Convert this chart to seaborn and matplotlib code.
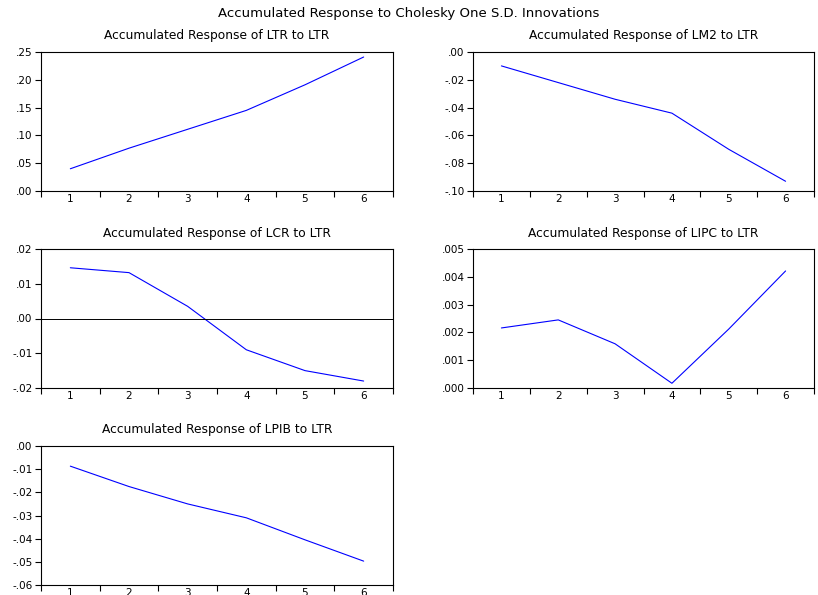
import numpy as np
import pandas as pd
import matplotlib
matplotlib.use('Agg')
import matplotlib.pyplot as plt
from matplotlib.ticker import FuncFormatter, FixedLocator
import seaborn as sns

sns.set_style('white')
plt.rcParams['font.family'] = ['DejaVu Sans']
plt.rcParams['text.color'] = 'black'
plt.rcParams['xtick.color'] = 'black'
plt.rcParams['ytick.color'] = 'black'

periods = [1, 2, 3, 4, 5, 6]

# accumulated responses to a LTR shock
ltr = [0.040, 0.077, 0.111, 0.145, 0.191, 0.241]
lm2 = [-0.010, -0.022, -0.034, -0.044, -0.070, -0.093]
lcr = [0.0146, 0.0132, 0.0035, -0.0090, -0.0150, -0.0180]
lipc = [0.00216, 0.00245, 0.00159, 0.00017, 0.00212, 0.00421]
lpib = [-0.0087, -0.0175, -0.0250, -0.0310, -0.0405, -0.0497]

titles = ['Accumulated Response of LTR to LTR',
          'Accumulated Response of LM2 to LTR',
          'Accumulated Response of LCR to LTR',
          'Accumulated Response of LIPC to LTR',
          'Accumulated Response of LPIB to LTR']
series = [ltr, lm2, lcr, lipc, lpib]
ylims = [(0, 0.25), (-0.10, 0.0), (-0.02, 0.02), (0, 0.005), (-0.06, 0.0)]
ysteps = [0.05, 0.02, 0.01, 0.001, 0.01]
ydec = [2, 2, 2, 3, 2]

W, H = 818, 595
# left, top, right, bottom in pixels
boxes = [(41, 52, 393, 191), (473, 52, 814, 191),
         (41, 249, 393, 388), (473, 249, 814, 388),
         (41, 446, 393, 585)]

fig = plt.figure(figsize=(W / 100, H / 100), dpi=100)
fig.text(0.5, 1 - 14 / H, 'Accumulated Response to Cholesky One S.D. Innovations',
         ha='center', va='center', fontsize=9.5)


def eviews_fmt(d):
    def f(v, pos):
        s = f'{v:.{d}f}'
        if abs(v) < 1e-12:
            s = f'{0:.{d}f}'
        return s.replace('0.', '.', 1)
    return FuncFormatter(f)


for i, (vals, title) in enumerate(zip(series, titles)):
    l, t, r, b = boxes[i]
    ax = fig.add_axes([l / W, 1 - b / H, (r - l) / W, (b - t) / H])
    df = pd.DataFrame({'period': periods, 'value': vals})
    sns.lineplot(data=df, x='period', y='value', ax=ax, color='#0000ff', lw=0.8)
    if i == 2:
        ax.axhline(0, color='black', lw=0.7)
    ax.set_xlim(0.5, 6.5)
    ax.set_ylim(*ylims[i])
    lo, hi = ylims[i]
    n = int(round((hi - lo) / ysteps[i]))
    ax.yaxis.set_major_locator(FixedLocator([lo + k * ysteps[i] for k in range(n + 1)]))
    ax.yaxis.set_major_formatter(eviews_fmt(ydec[i]))
    ax.xaxis.set_major_locator(FixedLocator([0.5 + k for k in range(7)]))
    ax.xaxis.set_minor_locator(FixedLocator(periods))
    ax.xaxis.set_major_formatter(FuncFormatter(lambda v, p: ''))
    ax.xaxis.set_minor_formatter(FuncFormatter(lambda v, p: f'{int(round(v))}'))
    ax.tick_params(axis='x', which='major', direction='out', length=4, width=0.8,
                   bottom=True, color='black')
    ax.tick_params(axis='x', which='minor', length=0, labelsize=7.5, pad=2,
                   labelcolor='black')
    ax.tick_params(axis='y', which='major', direction='out', length=4, width=0.8,
                   left=True, labelsize=7.5, pad=2, color='black', labelcolor='black')
    ax.set_xlabel('')
    ax.set_ylabel('')
    ax.set_title(title, fontsize=8.8, pad=9, color='black')
    for sp in ax.spines.values():
        sp.set_color('black')
        sp.set_linewidth(0.8)

fig.savefig('out.png', dpi=100)
